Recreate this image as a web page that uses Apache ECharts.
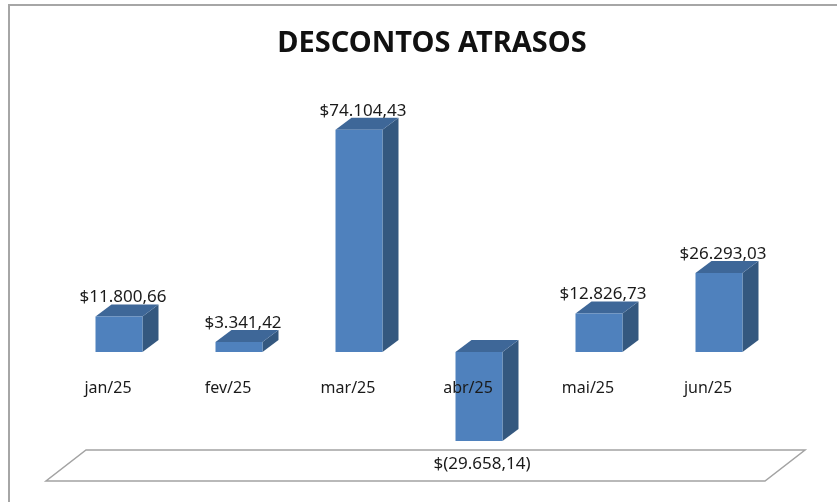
<!DOCTYPE html>
<html>
<head>
<meta charset="utf-8">
<script src="https://cdn.jsdelivr.net/npm/echarts@6/dist/echarts.min.js"></script>
<style>
  html, body {margin:0;padding:0;background:#fff;}
  #chart {width:837px;height:502px;}
</style>
</head>
<body>
<div id="chart"></div>
<script>
var months = ['jan/25', 'fev/25', 'mar/25', 'abr/25', 'mai/25', 'jun/25'];
var valores = [11800.66, 3341.42, 74104.43, -29658.14, 12826.73, 26293.03];
var titulo = 'DESCONTOS ATRASOS';

// formato brasileiro: $11.800,66 / $(29.658,14)
function fmt(v) {
  var neg = v < 0;
  var s = Math.abs(v).toFixed(2).split('.');
  var inteiro = s[0].replace(/\B(?=(\d{3})+(?!\d))/g, '.');
  var txt = inteiro + ',' + s[1];
  return neg ? '$(' + txt + ')' : '$' + txt;
}

var myChart = echarts.init(document.getElementById('chart'));
var fonte = '"Noto Sans", sans-serif';

var option = {
  animation: false,
  title: {
    text: titulo,
    left: 427, top: 24,
    textAlign: 'center',
    textStyle: {fontFamily: fonte, fontSize: 29, fontWeight: 'bold', color: '#111'}
  },
  grid: {left: 59, width: 720, top: 112, height: 360, outerBoundsMode: 'none', containLabel: false},
  xAxis: {
    type: 'category',
    data: months,
    offset: -120,   // eixo na linha do zero (40000/120000 * 360)
    z: 10,
    axisLine: {show: false, onZero: false},
    axisTick: {show: false},
    axisLabel: {
      margin: 28,
      fontFamily: fonte, fontSize: 16, color: '#1a1a1a',
      padding: [0, 22, 0, 0]
    }
  },
  yAxis: {
    type: 'value',
    min: -40000, max: 80000,
    show: false
  },
  graphic: [
    // moldura
    {type: 'rect', shape: {x: 9, y: 5, width: 900, height: 600},
     style: {fill: 'none', stroke: '#a6a6a6', lineWidth: 2}, silent: true},
    // piso 3D
    {type: 'polygon', shape: {points: [[86, 450], [805, 450], [765, 481], [46, 481]]},
     style: {fill: '#fff', stroke: '#a3a3a3', lineWidth: 1.5}, z: -1, silent: true}
  ],
  series: [{
    type: 'custom',
    data: valores.map(function (v, i) { return [i, v]; }),
    z: 2,
    renderItem: function (params, api) {
      var i = api.value(0), v = api.value(1);
      var base = api.coord([i, 0]);
      var topo = api.coord([i, v]);
      var w = 47, dx = 16, dy = -12;
      var l = base[0] - w / 2, r = base[0] + w / 2;
      var y0 = Math.min(base[1], topo[1]);
      var y1 = Math.max(base[1], topo[1]);
      var lbl = v >= 0
        ? {x: base[0] + 4, y: y0 - 19}
        : {x: base[0] + 3, y: y1 + 23};
      return {
        type: 'group',
        children: [
          {type: 'polygon', shape: {points: [[r, y0], [r + dx, y0 + dy], [r + dx, y1 + dy], [r, y1]]},
           style: {fill: '#34587f'}},
          {type: 'polygon', shape: {points: [[l, y0], [l + dx, y0 + dy], [r + dx, y0 + dy], [r, y0]]},
           style: {fill: '#3e6798'}},
          {type: 'rect', shape: {x: l, y: y0, width: w, height: y1 - y0},
           style: {fill: '#4f81bd'}},
          {type: 'text', x: lbl.x, y: lbl.y,
           style: {text: fmt(v), fontFamily: fonte, fontSize: 17, fill: '#1a1a1a',
                   align: 'center', verticalAlign: 'middle'}}
        ]
      };
    }
  }]
};
myChart.setOption(option);
</script>
</body>
</html>
